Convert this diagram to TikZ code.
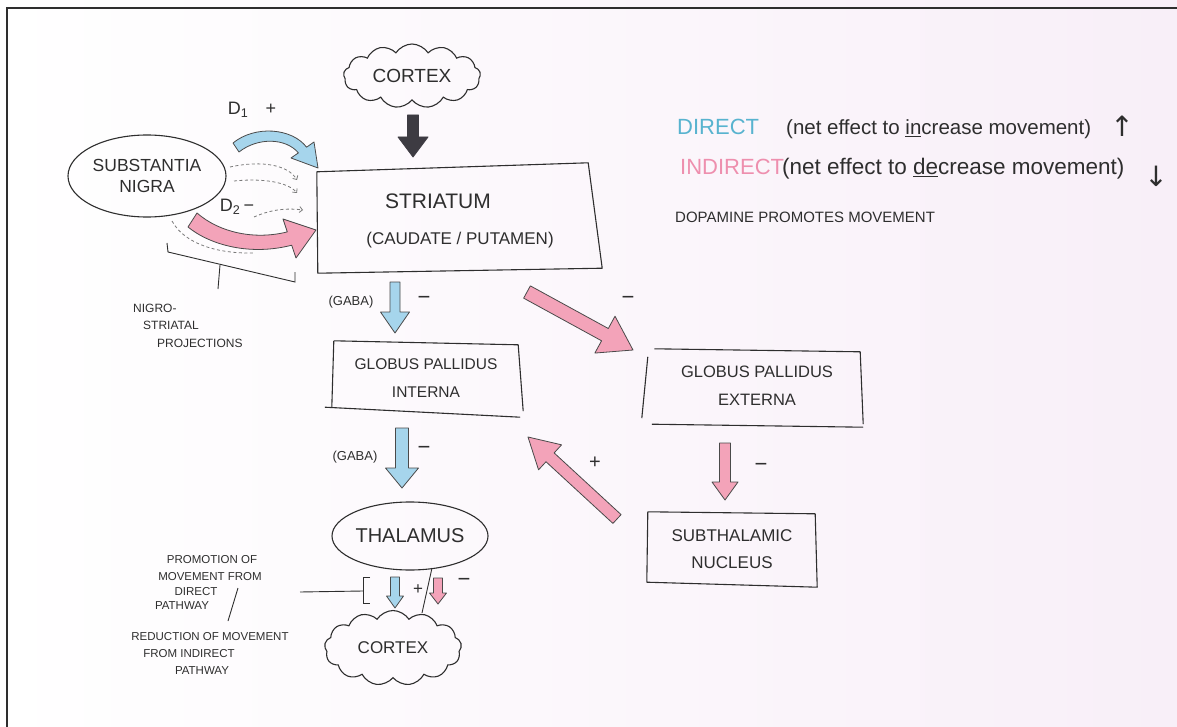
\documentclass[tikz,border=0pt]{standalone}
\usepackage{fontspec}
\setmainfont{Liberation Sans}
\newfontfamily\dejavu{DejaVu Sans}
\usetikzlibrary{shapes.geometric,shapes.symbols,calc,arrows.meta}
\definecolor{ink}{HTML}{2E2E2E}
\definecolor{outl}{HTML}{4A4A4A}
\definecolor{bluefill}{HTML}{A6D5EC}
\definecolor{pinkfill}{HTML}{F3A3B9}
\definecolor{darkfill}{HTML}{3D3B42}
\definecolor{legblue}{HTML}{58B3CF}
\definecolor{legpink}{HTML}{EE8FAE}
\definecolor{bgpink}{HTML}{F8EFF8}
\definecolor{dashgray}{HTML}{7A7A7A}
\newcommand\fsb[2]{\fontsize{#1}{#2}\selectfont}
% straight fat arrow: #1 style, #2 from, #3 to, #4 shaft half width, #5 head half width, #6 head length
\newcommand\fatarrow[6]{%
  \path ($(#3)!#6!(#2)$) coordinate (fah);
  \draw[#1] ($(#2)!#4!90:(#3)$) -- ($(fah)!#4!90:(#3)$) -- ($(fah)!#5!90:(#3)$) -- (#3)
    -- ($(fah)!#5!-90:(#3)$) -- ($(fah)!#4!-90:(#3)$) -- ($(#2)!#4!-90:(#3)$) -- cycle;}
\tikzset{
  bluearrow/.style={fill=bluefill, draw=outl, line width=0.8pt, line join=round},
  pinkarrow/.style={fill=pinkfill, draw=outl, line width=0.8pt, line join=round},
  darkarrow/.style={fill=darkfill, draw=darkfill, line width=0.8pt, line join=round},
  boxline/.style={draw=ink, line width=1.1pt, line join=round},
  boxnode/.style={inner sep=0pt, align=center, text=ink},
  ellnode/.style={ellipse, draw=ink, line width=1.1pt, inner sep=0pt, align=center, text=ink},
  cloudnode/.style={cloud, cloud puffs=13, cloud puff arc=115, cloud ignores aspect, draw=ink, line width=1.1pt, inner sep=0pt, align=center, text=ink},
  lbl/.style={inner sep=0pt, text=ink},
  sign/.style={inner sep=0pt, text=ink, font=\fsb{22}{24}},
  small/.style={inner sep=0pt, text=ink, font=\fsb{11.5}{13}},
  dashline/.style={draw=dashgray, dash pattern=on 3pt off 2.5pt, line width=0.8pt},
  thin/.style={draw=ink, line width=0.9pt}
}
\begin{document}
\begin{tikzpicture}[x=1pt,y=-1pt]
\useasboundingbox (0,0) rectangle (1177,727);
\shade[left color=white, middle color=white, right color=bgpink] (0,0) rectangle (1177,727);
\draw[line width=2pt, ink] (7,727) -- (7,8) -- (1177,8);

% ---------- nodes ----------
\node[cloudnode, minimum width=137pt, minimum height=64pt, font=\fsb{19}{22}] (ctop) at (412,76) {CORTEX};
\node[boxnode, minimum width=286pt, minimum height=102pt, font=\fsb{17}{22}] (str) at (460,221)
  {\fsb{21}{22}STRIATUM\hspace*{44pt}\\[14pt]\fsb{17}{22}(CAUDATE / PUTAMEN)};
\node[ellnode, minimum width=158pt, minimum height=82pt, font=\fsb{17.5}{21}] (sn) at (147,176) {SUBSTANTIA\\NIGRA};
\node[boxnode, minimum width=188pt, minimum height=71pt, font=\fsb{15.5}{28}] (gpi) at (426,378) {GLOBUS PALLIDUS\\INTERNA};
\node[boxnode, minimum width=219pt, minimum height=78pt, font=\fsb{16.5}{28}] (gpe) at (752,386) {\hspace*{10pt}GLOBUS PALLIDUS\\\hspace*{10pt}EXTERNA};
\node[boxnode, minimum width=170pt, minimum height=74pt, font=\fsb{17}{27}] (stn) at (732,549) {SUBTHALAMIC\\NUCLEUS};
\node[ellnode, minimum width=156pt, minimum height=68pt, font=\fsb{20}{22}] (thal) at (410,536) {THALAMUS};
\node[cloudnode, minimum width=137pt, minimum height=75pt, font=\fsb{17}{20}] (cbot) at (393,648) {CORTEX};

% ---------- hand-drawn boxes ----------
\draw[boxline] ($(str.north west)+(0,2)$) -- ($(str.north east)+(-15,-7)$) -- ($(str.south east)+(-1,-4)$)
  -- ($(str.south west)+(1,1)$) -- cycle;
\draw[boxline] ($(gpi.north west)+(2,-1.5)$) -- ($(gpi.north east)+(-2,2.5)$) -- ($(gpi.south east)+(3,-2.5)$);
\draw[boxline] ($(gpi.north west)+(2,-1.5)$) -- ($(gpi.south west)+(0,-6.5)$);
\draw[boxline] ($(gpi.south west)+(-7,-6.5)$) -- ($(gpi.south east)+(0,3.5)$);
\draw[boxline] ($(gpe.north west)+(12,2)$) -- ($(gpe.north east)+(-1.5,5)$) -- ($(gpe.south east)+(1.5,-1)$);
\draw[boxline] ($(gpe.north west)+(5.5,10)$) -- ($(gpe.south west)+(-0.5,-7)$);
\draw[boxline] ($(gpe.south west)+(9.5,-1)$) -- ($(gpe.south east)+(1.5,2)$);
\draw[boxline] ($(stn.north west)+(1,0)$) -- ($(stn.north east)+(-2,2)$) -- ($(stn.south east)+(0,1)$)
  -- ($(stn.south west)+(0,-4)$) -- cycle;

% ---------- straight fat arrows ----------
\coordinate (a1s) at (413,115);  \coordinate (a1e) at (413,157);
\coordinate (g1s) at (395,282);  \coordinate (g1e) at (395,333);
\coordinate (g2s) at (402,428);  \coordinate (g2e) at (402,488);
\coordinate (p1s) at (527,292);  \coordinate (p1e) at (633,350);
\coordinate (p2s) at (725,443);  \coordinate (p2e) at (725,500);
\coordinate (p3s) at (617,519);  \coordinate (p3e) at (528,437);
\coordinate (b3s) at (395,577);  \coordinate (b3e) at (395,608);
\coordinate (p4s) at (438,578);  \coordinate (p4e) at (438,604);
\fatarrow{darkarrow}{a1s}{a1e}{5.5pt}{15pt}{20pt}
\fatarrow{bluearrow}{g1s}{g1e}{5pt}{14.5pt}{21pt}
\fatarrow{bluearrow}{g2s}{g2e}{6.5pt}{16.5pt}{20pt}
\fatarrow{pinkarrow}{p1s}{p1e}{7pt}{21pt}{32pt}
\fatarrow{pinkarrow}{p2s}{p2e}{5.5pt}{13pt}{18pt}
\fatarrow{pinkarrow}{p3s}{p3e}{6pt}{17pt}{30pt}
\fatarrow{bluearrow}{b3s}{b3e}{4.5pt}{8.5pt}{12pt}
\fatarrow{pinkarrow}{p4s}{p4e}{4.5pt}{8.5pt}{11pt}

% ---------- curved D1 / D2 arrows ----------
\draw[bluearrow] (233,143) .. controls (255,125) and (292,128) .. (306.6,147.2) -- (314,142) -- (318,168)
  -- (291,158) -- (298.4,152.9) .. controls (286,138) and (258,137) .. (239,152) -- cycle;
\draw[pinkarrow] (197,213) .. controls (220,233) and (255,240) .. (287.3,231.9) -- (283,219) -- (316,230)
  -- (296,258) -- (291.7,245.2) .. controls (250,256) and (210,245) .. (188,227) -- cycle;

% dotted projections
\draw[dashline, -{Straight Barb[length=3pt,width=6pt]}] (230,167) .. controls (262,160) and (288,165) .. (297,180);
\draw[dashline, -{Straight Barb[length=3pt,width=6pt]}] (234,181) .. controls (262,178) and (288,182) .. (297,193);
\draw[dashline, -{Straight Barb[length=3pt,width=6pt]}] (254,217) .. controls (272,209) and (288,208) .. (303,210);
\draw[dashline] (172,221) .. controls (185,245) and (220,254) .. (255,253);

% bracket of nigro-striatal projections
\draw[thin] (167,243) -- (168,252) -- (295,282) -- (295,272);
\draw[thin] (220,265) -- (218,289);

% ---------- labels ----------
\node[lbl, font=\fsb{18}{20}] (d1) at (252,110) {D\textsubscript{1}\hspace{17pt}+};
\node[lbl, font=\fsb{18}{20}] (d2) at (237,207) {D\textsubscript{2}\,−};
\node[lbl, anchor=west, font=\fsb{12}{14}] (n1) at (133,308) {NIGRO-};
\node[lbl, anchor=west, font=\fsb{12}{14}] (n2) at (143,325) {STRIATAL};
\node[lbl, anchor=west, font=\fsb{12}{14}] (n3) at (157,343) {PROJECTIONS};

\node[lbl, font=\fsb{13}{15}] (gaba1) at (351,302) {(GABA)};
\node[lbl, font=\fsb{13}{15}] (gaba2) at (355,457) {(GABA)};
\node[sign] (m1) at (424,300) {−};
\node[sign] (m2) at (424,450) {−};
\node[sign] (m3) at (628,300) {−};
\node[sign] (m4) at (761,467) {−};
\node[sign] (m5) at (464,582) {−};
\node[sign, font=\fsb{20}{22}] (pl1) at (595,463) {+};
\node[sign, font=\fsb{17}{18}] (pl2) at (418,590) {+};

% bottom bracket and slash
\draw[thin] (370,577) -- (363,577) -- (363,603) -- (370,603);
\draw[thin] (300,592) -- (363,591);
\draw[thin] (432,568) -- (422,613);

\node[small] (t1) at (212,560) {PROMOTION OF};
\node[small] (t2) at (210,577) {MOVEMENT FROM};
\node[small] (t3) at (196,592) {DIRECT};
\node[small] (t4) at (182,606) {PATHWAY};
\draw[thin] (238,588) -- (228,621);
\node[small] (t5) at (210,637) {REDUCTION OF MOVEMENT};
\node[small] (t6) at (189,654) {FROM INDIRECT};
\node[small] (t7) at (202,671) {PATHWAY};

% ---------- legend ----------
\node[lbl, anchor=base west, text=legblue, font=\fsb{22}{24}] (ld) at (677,135) {DIRECT};
\node[lbl, anchor=base west, font=\fsb{20.5}{24}] (ldt) at (786,135) {(net effect to \underline{in}crease movement)};
\node[lbl, font=\dejavu\fsb{28}{30}] (lua) at (1122,126) {↑};
\node[lbl, anchor=base west, text=legpink, font=\fsb{22}{24}] (li) at (680,175) {INDIRECT};
\node[lbl, anchor=base west, font=\fsb{22.5}{24}] (lit) at (782,175) {(net effect to \underline{de}crease movement)};
\node[lbl, font=\dejavu\fsb{28}{30}] (lda) at (1156,176) {↓};
\node[lbl, anchor=base west, font=\fsb{15}{17}] (ldp) at (675,223) {DOPAMINE PROMOTES MOVEMENT};
\end{tikzpicture}
\end{document}
